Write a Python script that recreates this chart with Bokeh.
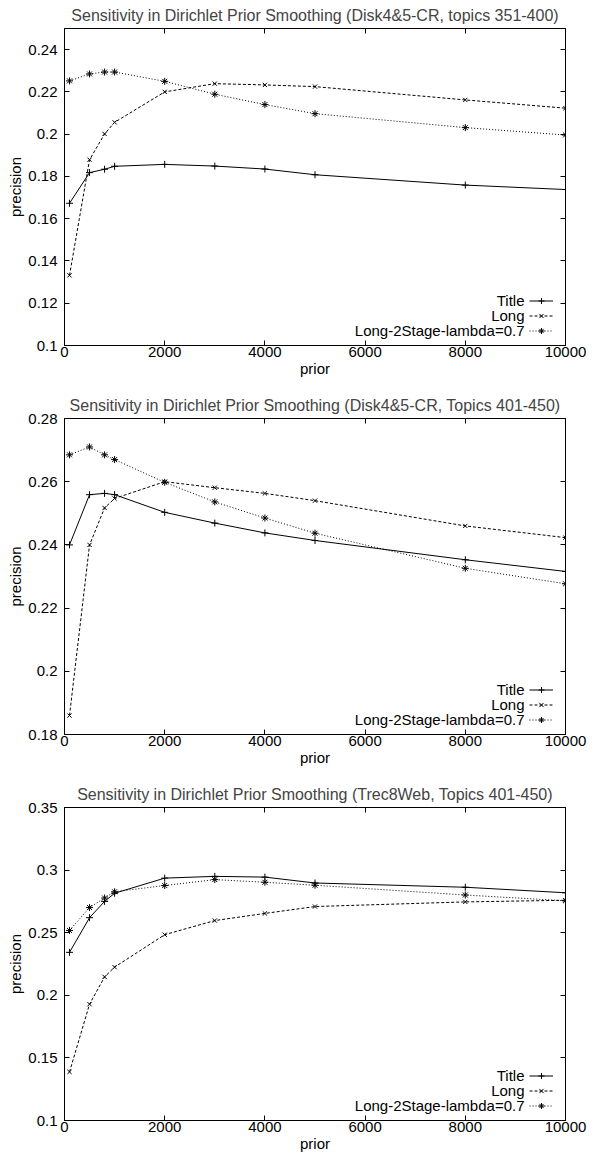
from bokeh.plotting import figure
from bokeh.layouts import column
from bokeh.models import Range1d, FixedTicker, LinearAxis, Legend, LegendItem, Label
from bokeh.core.properties import value
from bokeh.embed import file_html
from bokeh.resources import INLINE

# ---------------- data ----------------
prior = [100, 500, 800, 1000, 2000, 3000, 4000, 5000, 8000, 10000]
x_ticks = [0, 2000, 4000, 6000, 8000, 10000]
x_tick_labels = ["0", "2000", "4000", "6000", "8000", "10000"]
series_names = ["Title", "Long", "Long-2Stage-lambda=0.7"]

titles = [
    "Sensitivity in Dirichlet Prior Smoothing (Disk4&5-CR, topics 351-400)",
    "Sensitivity in Dirichlet Prior Smoothing (Disk4&5-CR, Topics 401-450)",
    "Sensitivity in Dirichlet Prior Smoothing (Trec8Web, Topics 401-450)",
]

# panel 1
p1_title = [0.1673, 0.1818, 0.1834, 0.1848, 0.1857, 0.1849, 0.1835, 0.1808, 0.1759, 0.1738]
p1_long = [0.1332, 0.1879, 0.2001, 0.2056, 0.2200, 0.2239, 0.2233, 0.2225, 0.2162, 0.2123]
p1_2stage = [0.2252, 0.2285, 0.2294, 0.2294, 0.2250, 0.2189, 0.2140, 0.2097, 0.2031, 0.1996]
p1_yrange = (0.1, 0.25)
p1_yticks = [0.1, 0.12, 0.14, 0.16, 0.18, 0.2, 0.22, 0.24]
p1_ylabels = ["0.1", "0.12", "0.14", "0.16", "0.18", "0.2", "0.22", "0.24"]

# panel 2
p2_title = [0.2400, 0.2559, 0.2563, 0.2559, 0.2503, 0.2469, 0.2438, 0.2414, 0.2353, 0.2316]
p2_long = [0.1860, 0.2400, 0.2517, 0.2547, 0.2600, 0.2581, 0.2563, 0.2540, 0.2460, 0.2423]
p2_2stage = [0.2685, 0.2710, 0.2685, 0.2670, 0.2598, 0.2536, 0.2485, 0.2437, 0.2326, 0.2277]
p2_yrange = (0.18, 0.28)
p2_yticks = [0.18, 0.2, 0.22, 0.24, 0.26, 0.28]
p2_ylabels = ["0.18", "0.2", "0.22", "0.24", "0.26", "0.28"]

# panel 3
p3_title = [0.2343, 0.2620, 0.2750, 0.2815, 0.2936, 0.2950, 0.2944, 0.2897, 0.2863, 0.2819]
p3_long = [0.1388, 0.1929, 0.2147, 0.2225, 0.2484, 0.2597, 0.2654, 0.2709, 0.2746, 0.2759]
p3_2stage = [0.2518, 0.2701, 0.2777, 0.2827, 0.2877, 0.2924, 0.2903, 0.2879, 0.2801, 0.2755]
p3_yrange = (0.1, 0.35)
p3_yticks = [0.1, 0.15, 0.2, 0.25, 0.3, 0.35]
p3_ylabels = ["0.1", "0.15", "0.2", "0.25", "0.3", "0.35"]

# ---------------- style ----------------
FONT = "Liberation Sans"
TICK_FS = "15px"
TITLE_FS = "16px"
FRAME_W = 501
styles = [
    dict(dash="solid", marker="cross", size=7, lw=1),
    dict(dash="3 2", marker="x", size=6, lw=1),
    dict(dash="1 2", marker="asterisk", size=7, lw=1),
]


def style_axis(ax, labels_visible=True):
    ax.axis_line_color = "black"
    ax.axis_line_width = 1
    ax.major_tick_line_color = "black"
    ax.major_tick_in = 5
    ax.major_tick_out = 0
    ax.minor_tick_line_color = None
    ax.major_label_text_font = FONT
    ax.major_label_text_color = "black"
    ax.axis_label_text_font = FONT
    ax.axis_label_text_font_style = "normal"
    ax.axis_label_text_color = "black"
    if labels_visible:
        ax.major_label_text_font_size = TICK_FS
        ax.axis_label_text_font_size = TICK_FS
    else:
        ax.major_label_text_font_size = "0px"
        ax.major_label_standoff = 0


def make_panel(title, yr, yticks, ylabels, ys, frame_h, top_b, bottom_b):
    p = figure(
        frame_width=FRAME_W, frame_height=frame_h,
        x_range=Range1d(0, 10000), y_range=Range1d(*yr),
        output_backend="svg", toolbar_location=None,
        min_border_left=64, min_border_right=24,
        min_border_top=top_b, min_border_bottom=bottom_b,
        title=title,
    )
    p.title.text_font = FONT
    p.title.text_font_size = TITLE_FS
    p.title.text_font_style = "normal"
    p.title.align = "center"
    p.title.standoff = 9
    p.grid.visible = False
    p.outline_line_color = "black"
    p.outline_line_width = 1
    p.background_fill_color = "white"
    p.border_fill_color = "white"

    xax = p.xaxis[0]
    xax.ticker = FixedTicker(ticks=x_ticks)
    xax.major_label_overrides = dict(zip(x_ticks, x_tick_labels))
    xax.axis_label = "prior"
    style_axis(xax)
    xax.major_label_standoff = 1
    xax.axis_label_standoff = 0

    yax = p.yaxis[0]
    yax.ticker = FixedTicker(ticks=yticks)
    yax.major_label_overrides = dict(zip(yticks, ylabels))
    yax.axis_label = "precision"
    style_axis(yax)
    yax.major_label_standoff = 7
    yax.axis_label_standoff = 1

    top = LinearAxis(ticker=FixedTicker(ticks=x_ticks))
    top.major_label_overrides = {t: "" for t in x_ticks}
    style_axis(top, labels_visible=False)
    p.add_layout(top, "above")
    right = LinearAxis(ticker=FixedTicker(ticks=yticks))
    right.major_label_overrides = {t: "" for t in yticks}
    style_axis(right, labels_visible=False)
    p.add_layout(right, "right")

    items = []
    for y, st in zip(ys, styles):
        rl = p.line(prior, y, line_color="black", line_width=1, line_dash=st["dash"])
        rs = p.scatter(prior, y, marker=st["marker"], size=st["size"],
                       line_color="black", fill_color="black", line_width=st["lw"])
        items.append(LegendItem(label=value(""), renderers=[rl, rs]))

    leg = Legend(items=items, location=(465, 7), glyph_width=24, glyph_height=15,
                 label_width=0, label_standoff=0, label_height=15,
                 label_text_font_size="10px", padding=0, margin=0, spacing=0,
                 border_line_alpha=0, background_fill_alpha=0)
    p.add_layout(leg)

    # legend texts (right aligned, to the left of the samples, gnuplot style)
    span = yr[1] - yr[0]
    for name, off in zip(series_names, [45, 30, 15]):
        p.add_layout(Label(x=460 / FRAME_W * 10000, y=yr[0] + off / frame_h * span,
                           text=name, text_align="right", text_baseline="middle",
                           text_font=FONT, text_font_size=TICK_FS, text_color="black"))
    return p


p1 = make_panel(titles[0], p1_yrange, p1_yticks, p1_ylabels,
                [p1_title, p1_long, p1_2stage], 317, 26, 35)
p2 = make_panel(titles[1], p2_yrange, p2_yticks, p2_ylabels,
                [p2_title, p2_long, p2_2stage], 316, 38, 35)
p3 = make_panel(titles[2], p3_yrange, p3_yticks, p3_ylabels,
                [p3_title, p3_long, p3_2stage], 313, 38, 35)

layout = column(p1, p2, p3, spacing=0)
open("out.html", "w").write(file_html(layout, INLINE))
